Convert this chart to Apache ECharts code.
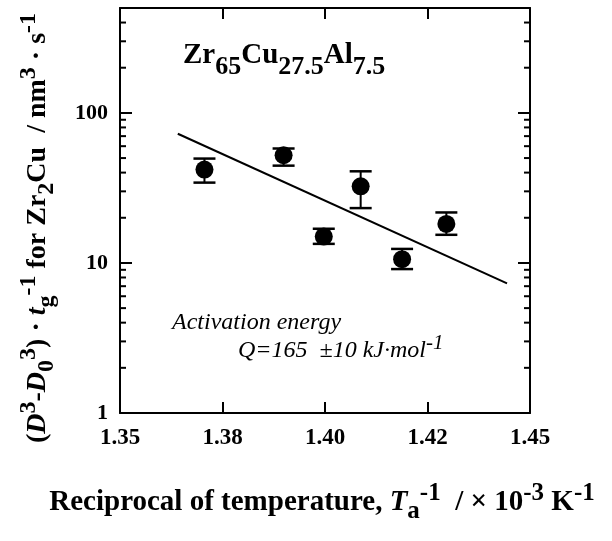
<!DOCTYPE html>
<html>
<head>
<meta charset="utf-8">
<script src="https://cdn.jsdelivr.net/npm/echarts@6/dist/echarts.min.js"></script>
<style>html,body{margin:0;padding:0;background:#fff;}#c{width:612px;height:541px;}</style>
</head>
<body>
<div id="c"></div>
<script>
// ---- data ----
const xTickLabels = ['1.35', '1.38', '1.40', '1.42', '1.45'];
const yTickLabels = ['1', '10', '100'];
const xVals = [1.3706, 1.3899, 1.3997, 1.4087, 1.4188, 1.4296];
const yVals = [41.9, 52.2, 15.0, 32.4, 10.6, 18.2];
const errLow = [34.3, 44.5, 13.4, 23.2, 9.1, 15.4];
const errHigh = [49.6, 57.9, 16.9, 40.8, 12.4, 21.7];
const fitX = [1.3641, 1.4444];
const fitY = [72.6, 7.31];
const minorY = [2, 3, 4, 5, 6, 7, 8, 9, 20, 30, 40, 50, 60, 70, 80, 90, 200, 300, 400];

const SERIF = "'Liberation Serif', 'DejaVu Serif', serif";
const chart = echarts.init(document.getElementById('c'), null, {renderer: 'canvas'});

function tok(size, weight, style, extra) {
  return Object.assign({fontSize: size, fontWeight: weight, fontStyle: style, fontFamily: SERIF, color: '#000'}, extra || {});
}

const pointData = xVals.map((x, i) => [x, yVals[i]]);
const errData = xVals.map((x, i) => [x, errLow[i], errHigh[i]]);
const fitData = fitX.map((x, i) => [x, fitY[i]]);

const axisCommonX = {
  type: 'value', min: 1.35, max: 1.45, interval: 0.025,
  axisLine: {show: true, onZero: false, lineStyle: {color: '#000', width: 2}},
  axisTick: {show: true, inside: true, length: 11, lineStyle: {color: '#000', width: 2}},
  splitLine: {show: false}
};
const axisCommonY = {
  type: 'log', logBase: 10, min: 1, max: 500,
  axisLine: {show: true, onZero: false, lineStyle: {color: '#000', width: 2}},
  axisTick: {show: true, inside: true, length: 12, lineStyle: {color: '#000', width: 2}},
  splitLine: {show: false}
};

const option = {
  backgroundColor: '#fff',
  animation: false,
  grid: {left: 120, right: 82, top: 8, bottom: 128, containLabel: false},
  xAxis: [
    Object.assign({}, axisCommonX, {
      position: 'bottom',
      axisLabel: {
        show: true, margin: 14, fontSize: 23, fontWeight: 'bold', fontFamily: SERIF, color: '#000',
        formatter: function (v) {
          const idx = Math.round((v - 1.35) / 0.025);
          return xTickLabels[idx] !== undefined ? xTickLabels[idx] : '';
        }
      }
    }),
    Object.assign({}, axisCommonX, {position: 'top', axisLabel: {show: false}})
  ],
  yAxis: [
    Object.assign({}, axisCommonY, {
      position: 'left',
      axisLabel: {
        show: true, margin: 12, fontSize: 22, fontWeight: 'bold', fontFamily: SERIF, color: '#000',
        showMaxLabel: false,
        formatter: function (v) {
          const idx = Math.round(Math.log10(v));
          return (Math.abs(Math.log10(v) - idx) < 1e-6 && yTickLabels[idx] !== undefined) ? yTickLabels[idx] : '';
        }
      }
    }),
    Object.assign({}, axisCommonY, {position: 'right', axisLabel: {show: false}})
  ],
  series: [
    {
      type: 'custom', name: 'minorTicks', xAxisIndex: 0, yAxisIndex: 0, silent: true,
      data: minorY.map(v => [1.40, v]),
      renderItem: function (params, api) {
        const v = api.value(1);
        const pl = api.coord([1.35, v]);
        const pr = api.coord([1.45, v]);
        const st = {stroke: '#000', lineWidth: 2};
        return {type: 'group', children: [
          {type: 'line', shape: {x1: pl[0], y1: pl[1], x2: pl[0] + 6, y2: pl[1]}, style: st},
          {type: 'line', shape: {x1: pr[0] - 6, y1: pr[1], x2: pr[0], y2: pr[1]}, style: st}
        ]};
      }
    },
    {
      type: 'line', name: 'fit', data: fitData, showSymbol: false, symbol: 'none',
      lineStyle: {color: '#000', width: 2}, z: 2
    },
    {
      type: 'custom', name: 'errors', data: errData, z: 3,
      renderItem: function (params, api) {
        const x = api.value(0);
        const lo = api.coord([x, api.value(1)]);
        const hi = api.coord([x, api.value(2)]);
        const hw = 11;
        const st = {stroke: '#000', lineWidth: 2};
        return {type: 'group', children: [
          {type: 'line', shape: {x1: lo[0], y1: lo[1], x2: hi[0], y2: hi[1]}, style: st},
          {type: 'line', shape: {x1: lo[0] - hw, y1: lo[1], x2: lo[0] + hw, y2: lo[1]}, style: {stroke: '#000', lineWidth: 2.5}},
          {type: 'line', shape: {x1: hi[0] - hw, y1: hi[1], x2: hi[0] + hw, y2: hi[1]}, style: {stroke: '#000', lineWidth: 2.5}}
        ]};
      }
    },
    {
      type: 'scatter', name: 'points', data: pointData, symbol: 'circle', symbolSize: 18,
      itemStyle: {color: '#000', opacity: 1}, z: 4
    }
  ],
  graphic: [
    {
      type: 'text', x: 183, y: 56, z: 10,
      style: {
        text: '{m|Zr}{s|65}{m|Cu}{s|27.5}{m|Al}{s|7.5}',
        align: 'left', verticalAlign: 'middle',
        rich: {
          m: tok(29, 'bold', 'normal'),
          s: tok(26, 'bold', 'normal', {padding: [22, 0, 0, 0]})
        }
      }
    },
    {
      type: 'text', x: 172, y: 323, z: 10,
      style: {
        text: 'Activation energy', align: 'left', verticalAlign: 'middle',
        font: "italic 24px 'Liberation Serif', serif", fill: '#000'
      }
    },
    {
      type: 'text', x: 238, y: 351, z: 10,
      style: {
        text: '{n|Q=165  ±10 kJ·mol}{p|-1}',
        align: 'left', verticalAlign: 'middle',
        rich: {
          n: tok(24, 'normal', 'italic'),
          p: tok(21, 'normal', 'italic', {padding: [0, 0, 16, 0]})
        }
      }
    },
    {
      type: 'text', x: 322, y: 503, z: 10,
      style: {
        text: '{n|Reciprocal of temperature, }{i|T}{b|a}{p|-1}{n|  / × 10}{p|-3}{n| K}{p|-1}',
        align: 'center', verticalAlign: 'middle',
        rich: {
          n: tok(29, 'bold', 'normal'),
          i: tok(29, 'bold', 'italic'),
          b: tok(25, 'bold', 'normal', {padding: [18, 0, 0, 0]}),
          p: tok(25, 'bold', 'normal', {padding: [0, 0, 18, 0]})
        }
      }
    },
    {
      type: 'text', x: 38, y: 228, rotation: Math.PI / 2, z: 10,
      style: {
        text: '{n|(}{i|D}{p|3}{n|-}{i|D}{b|0}{p|3}{n|) · }{i|t}{b|g}{p|-1}{n| for Zr}{b|2}{n|Cu  / nm}{p|3}{n| · s}{p|-1}',
        align: 'center', verticalAlign: 'middle',
        rich: {
          n: tok(28, 'bold', 'normal'),
          i: tok(28, 'bold', 'italic'),
          b: tok(24, 'bold', 'normal', {padding: [18, 0, 0, 0]}),
          p: tok(24, 'bold', 'normal', {padding: [0, 0, 18, 0]})
        }
      }
    }
  ]
};
chart.setOption(option);
</script>
</body>
</html>
